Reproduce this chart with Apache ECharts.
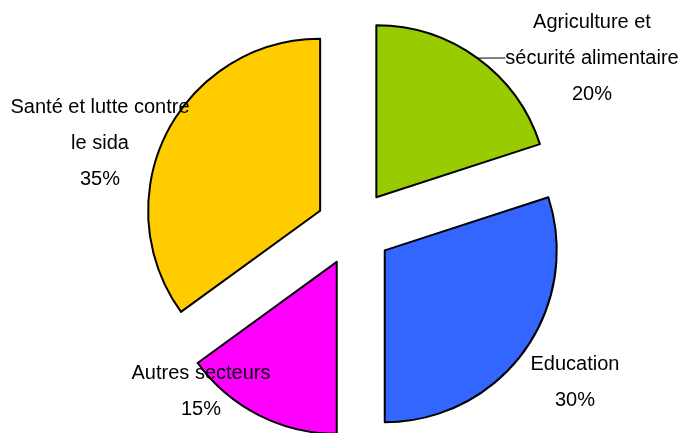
<!DOCTYPE html>
<html>
<head>
<meta charset="utf-8">
<script src="https://cdn.jsdelivr.net/npm/echarts@6/dist/echarts.min.js"></script>
<style>
html,body{margin:0;padding:0;background:#fff;}
#chart{width:681px;height:433px;}
</style>
</head>
<body>
<div id="chart"></div>
<script>
const categories = ['Agriculture et\nsécurité alimentaire', 'Education', 'Autres secteurs', 'Santé et lutte contre\nle sida'];
const values = [20, 30, 15, 35];
const colors = ['#99CC00', '#3366FF', '#FF00FF', '#FFCC00'];
const labelPos = [[592, 58], [575, 382], [201, 391], [100, 143]];
const showLine = [true, false, false, false];

const CX = 354, CY = 228, R = 172, EXPLODE = 38;
const total = values.reduce((a, b) => a + b, 0);

// each slice drawn in its own (exploded) pie series; other slices transparent
const series = [];
let cum = 0;
values.forEach((v, i) => {
  const mid = (cum + v / 2) / total * 2 * Math.PI; // clockwise from 12 o'clock
  cum += v;
  const cx = CX + EXPLODE * Math.sin(mid);
  const cy = CY - EXPLODE * Math.cos(mid);
  series.push({
    type: 'pie',
    center: [cx, cy],
    radius: [0, R],
    startAngle: 90,
    clockwise: true,
    silent: true,
    avoidLabelOverlap: false,
    emphasis: {disabled: true},
    label: {
      show: true,
      position: 'outside',
      formatter: '{b}\n{c}%',
      fontFamily: 'Liberation Sans, Arial, sans-serif',
      fontSize: 20,
      lineHeight: 36,
      color: '#000',
      align: 'center'
    },
    labelLine: {show: false, lineStyle: {color: '#000', width: 1}},
    labelLayout: function (p) {
      return {x: labelPos[p.dataIndex][0], y: labelPos[p.dataIndex][1], align: 'center', verticalAlign: 'middle'};
    },
    data: categories.map((c, j) => ({
      name: c,
      value: values[j],
      itemStyle: j === i
        ? {color: colors[j], borderColor: '#000', borderWidth: 2}
        : {color: 'rgba(0,0,0,0)', borderWidth: 0},
      label: {show: j === i},
      labelLine: {show: j === i && showLine[j], length: 8, length2: 8}
    }))
  });
});

const chart = echarts.init(document.getElementById('chart'), null, {renderer: 'canvas'});
chart.setOption({
  animation: false,
  backgroundColor: '#ffffff',
  series: series
});
</script>
</body>
</html>
